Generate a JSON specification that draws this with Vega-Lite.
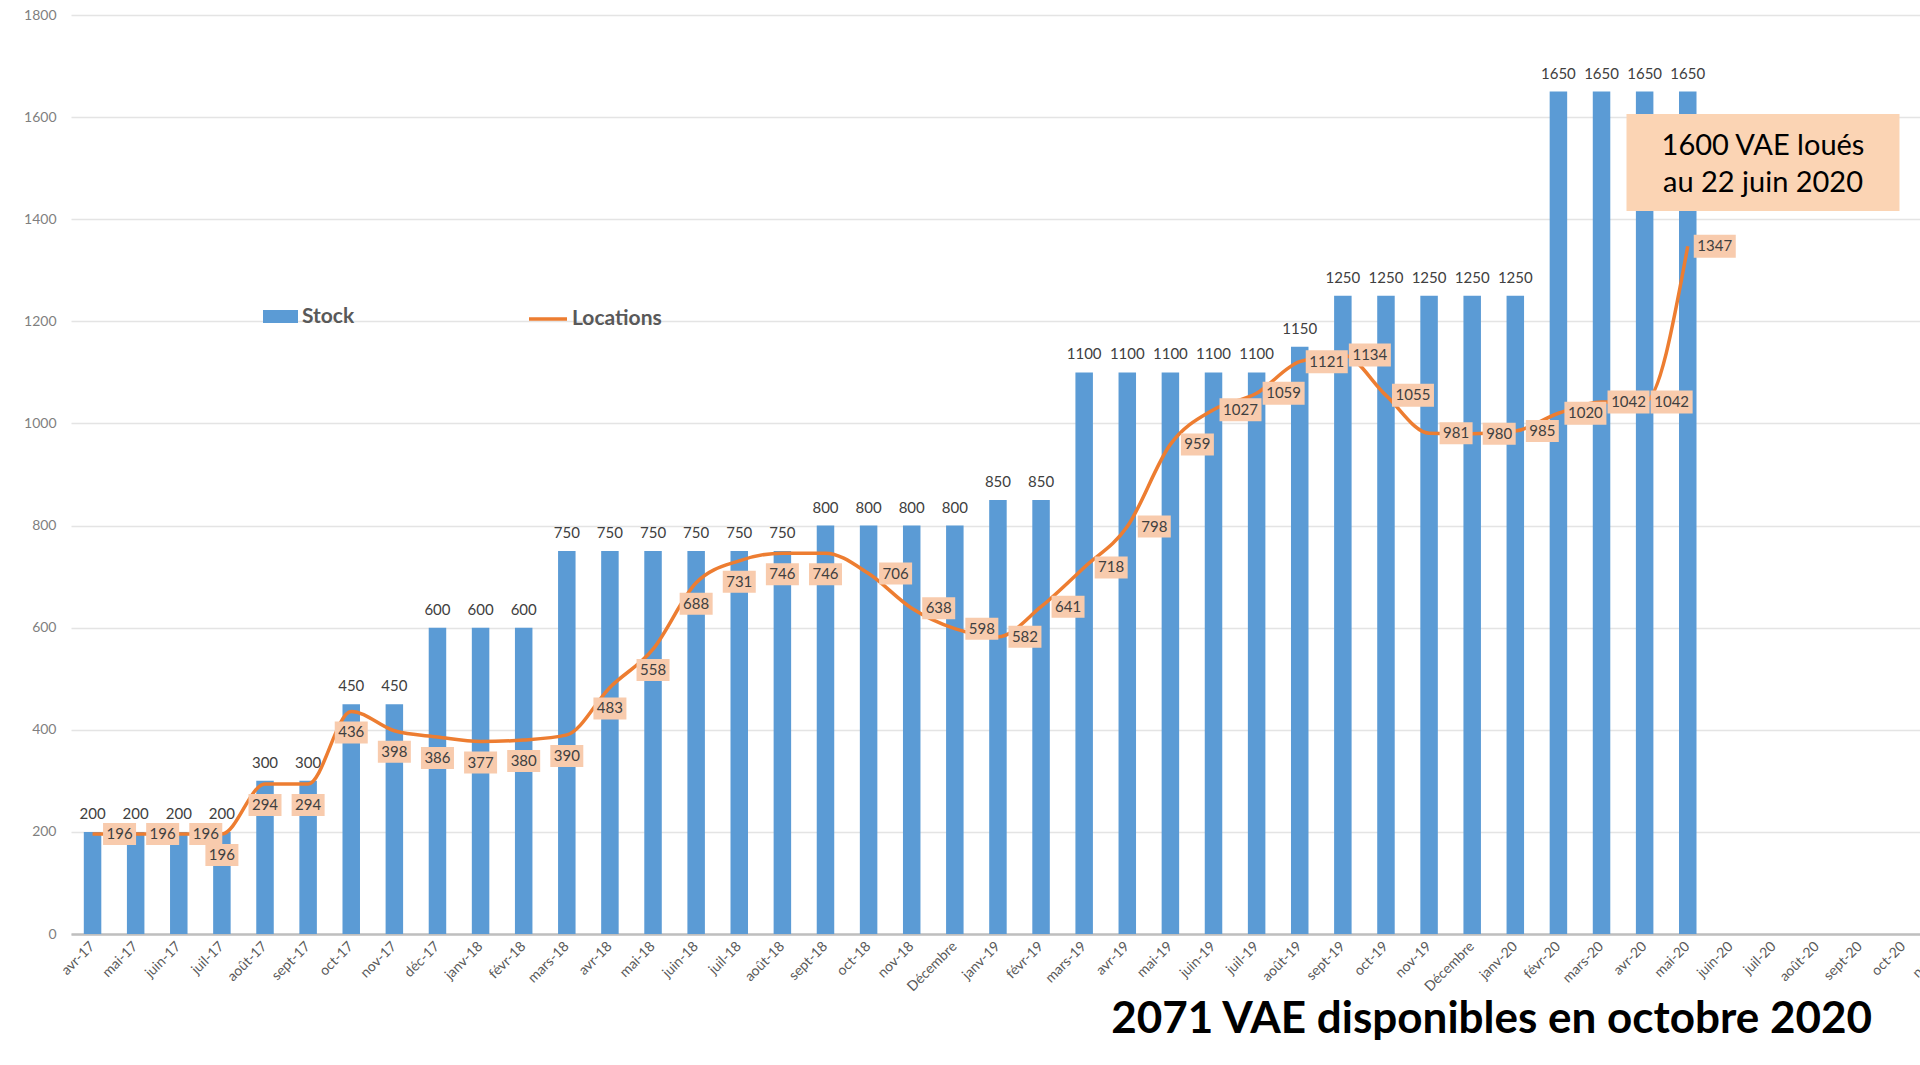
{
  "$schema": "https://vega.github.io/schema/vega-lite/v6.json",
  "width": 1849,
  "height": 919,
  "autosize": {"type": "none"},
  "padding": {"left": 71, "top": 15, "right": 0, "bottom": 131},
  "background": "white",
  "config": {
    "font": "Lato",
    "view": {"stroke": null},
    "axisY": {
      "tickCount": 10,
      "grid": true,
      "gridColor": "#E4E4E4",
      "gridWidth": 1.3,
      "domain": false,
      "ticks": false,
      "labelFontSize": 14,
      "labelColor": "#7F7F7F",
      "labelPadding": 15
    }
  },
  "title": {
    "text": "2071 VAE disponibles en octobre 2020",
    "orient": "bottom",
    "anchor": "end",
    "frame": "group",
    "fontSize": 44,
    "fontWeight": "bold",
    "color": "black",
    "offset": 4,
    "dx": -48
  },
  "data": {
    "values": [
      {"idx": 0, "m": "avr-17", "stock": 200, "loc": 196},
      {"idx": 1, "m": "mai-17", "stock": 200, "loc": 196},
      {"idx": 2, "m": "juin-17", "stock": 200, "loc": 196},
      {"idx": 3, "m": "juil-17", "stock": 200, "loc": 196},
      {"idx": 4, "m": "août-17", "stock": 300, "loc": 294},
      {"idx": 5, "m": "sept-17", "stock": 300, "loc": 294},
      {"idx": 6, "m": "oct-17", "stock": 450, "loc": 436},
      {"idx": 7, "m": "nov-17", "stock": 450, "loc": 398},
      {"idx": 8, "m": "déc-17", "stock": 600, "loc": 386},
      {"idx": 9, "m": "janv-18", "stock": 600, "loc": 377},
      {"idx": 10, "m": "févr-18", "stock": 600, "loc": 380},
      {"idx": 11, "m": "mars-18", "stock": 750, "loc": 390},
      {"idx": 12, "m": "avr-18", "stock": 750, "loc": 483},
      {"idx": 13, "m": "mai-18", "stock": 750, "loc": 558},
      {"idx": 14, "m": "juin-18", "stock": 750, "loc": 688},
      {"idx": 15, "m": "juil-18", "stock": 750, "loc": 731},
      {"idx": 16, "m": "août-18", "stock": 750, "loc": 746},
      {"idx": 17, "m": "sept-18", "stock": 800, "loc": 746},
      {"idx": 18, "m": "oct-18", "stock": 800, "loc": 706},
      {"idx": 19, "m": "nov-18", "stock": 800, "loc": 638},
      {"idx": 20, "m": "Décembre", "stock": 800, "loc": 598},
      {"idx": 21, "m": "janv-19", "stock": 850, "loc": 582},
      {"idx": 22, "m": "févr-19", "stock": 850, "loc": 641},
      {"idx": 23, "m": "mars-19", "stock": 1100, "loc": 718},
      {"idx": 24, "m": "avr-19", "stock": 1100, "loc": 798},
      {"idx": 25, "m": "mai-19", "stock": 1100, "loc": 959},
      {"idx": 26, "m": "juin-19", "stock": 1100, "loc": 1027},
      {"idx": 27, "m": "juil-19", "stock": 1100, "loc": 1059},
      {"idx": 28, "m": "août-19", "stock": 1150, "loc": 1121},
      {"idx": 29, "m": "sept-19", "stock": 1250, "loc": 1134},
      {"idx": 30, "m": "oct-19", "stock": 1250, "loc": 1055},
      {"idx": 31, "m": "nov-19", "stock": 1250, "loc": 981},
      {"idx": 32, "m": "Décembre ", "stock": 1250, "loc": 980},
      {"idx": 33, "m": "janv-20", "stock": 1250, "loc": 985},
      {"idx": 34, "m": "févr-20", "stock": 1650, "loc": 1020},
      {"idx": 35, "m": "mars-20", "stock": 1650, "loc": 1042},
      {"idx": 36, "m": "avr-20", "stock": 1650, "loc": 1042},
      {"idx": 37, "m": "mai-20", "stock": 1650, "loc": 1347},
      {"idx": 38, "m": "juin-20", "stock": null, "loc": null},
      {"idx": 39, "m": "juil-20", "stock": null, "loc": null},
      {"idx": 40, "m": "août-20", "stock": null, "loc": null},
      {"idx": 41, "m": "sept-20", "stock": null, "loc": null},
      {"idx": 42, "m": "oct-20", "stock": null, "loc": null},
      {"idx": 43, "m": "nov-20", "stock": null, "loc": null}
    ]
  },
  "encoding": {
    "x": {
      "field": "m",
      "type": "ordinal",
      "sort": null,
      "title": null,
      "scale": {
        "domain": ["avr-17", "mai-17", "juin-17", "juil-17", "août-17", "sept-17", "oct-17", "nov-17", "déc-17", "janv-18", "févr-18", "mars-18", "avr-18", "mai-18", "juin-18", "juil-18", "août-18", "sept-18", "oct-18", "nov-18", "Décembre", "janv-19", "févr-19", "mars-19", "avr-19", "mai-19", "juin-19", "juil-19", "août-19", "sept-19", "oct-19", "nov-19", "Décembre ", "janv-20", "févr-20", "mars-20", "avr-20", "mai-20", "juin-20", "juil-20", "août-20", "sept-20", "oct-20", "nov-20"],
        "paddingInner": 0,
        "paddingOuter": 0,
        "range": [0, 1897]
      },
      "axis": {
        "labelAngle": -45,
        "labelAlign": "right",
        "labelBaseline": "middle",
        "labelFontSize": 14,
        "labelColor": "#595959",
        "labelPadding": 10,
        "labelExpr": "trim(datum.label)",
        "labelOverlap": false,
        "labelBound": false,
        "ticks": false,
        "grid": false,
        "domainColor": "#BFBFBF",
        "domainWidth": 2.5
      }
    }
  },
  "layer": [
    {
      "mark": {"type": "bar", "size": 17.5},
      "encoding": {
        "y": {
          "field": "stock",
          "type": "quantitative",
          "title": null,
          "scale": {"domain": [0, 1800], "nice": false},
          "axis": {"format": "d"}
        },
        "fill": {
          "datum": "Stock",
          "scale": {"range": ["#5B9BD5"]},
          "legend": {
            "title": null,
            "orient": "none",
            "legendX": 192,
            "legendY": 284,
            "direction": "horizontal",
            "symbolType": "M-1,-0.37H1V0.37H-1Z",
            "symbolSize": 1225,
            "symbolStrokeWidth": 0,
            "labelFontSize": 21,
            "labelFontWeight": "bold",
            "labelColor": "#595959",
            "labelOffset": 4,
            "padding": 0
          }
        }
      }
    },
    {
      "transform": [{"filter": "datum.stock != null"}],
      "mark": {"type": "text", "dy": -18, "fontSize": 15, "color": "#404040", "baseline": "middle"},
      "encoding": {
        "y": {"field": "stock", "type": "quantitative", "title": null},
        "text": {"field": "stock", "type": "quantitative", "format": "d"}
      }
    },
    {
      "transform": [{"filter": "datum.loc != null"}],
      "mark": {"type": "line", "interpolate": "monotone", "strokeWidth": 3.5},
      "encoding": {
        "y": {"field": "loc", "type": "quantitative", "title": null},
        "stroke": {
          "datum": "Locations",
          "scale": {"range": ["#ED7D31"]},
          "legend": {
            "title": null,
            "orient": "none",
            "legendX": 456,
            "legendY": 283,
            "direction": "horizontal",
            "symbolType": "stroke",
            "symbolSize": 1444,
            "symbolStrokeWidth": 3.5,
            "labelFontSize": 21,
            "labelFontWeight": "bold",
            "labelColor": "#595959",
            "labelOffset": 3,
            "padding": 0
          }
        }
      }
    },
    {
      "transform": [{"filter": "datum.loc != null"}],
      "mark": {"type": "point", "filled": true, "fill": "#F8CBAD", "color": "#F8CBAD", "opacity": 1, "size": 1600, "strokeWidth": 0},
      "encoding": {
        "y": {"field": "loc", "type": "quantitative", "title": null},
        "shape": {
          "condition": [
            {"test": "datum.idx >= 3 && datum.idx <= 17", "value": "M-0.825,0.5H0.825V1.6H-0.825Z"},
            {"test": "datum.loc >= 1000", "value": "M0.3,-0.575H2.4V0.575H0.3Z"}
          ],
          "value": "M0.525,-0.55H2.175V0.55H0.525Z"
        }
      }
    },
    {
      "transform": [{"filter": "datum.loc != null && (datum.idx < 3 || datum.idx > 17)"}],
      "mark": {"type": "text", "dx": 27, "fontSize": 15, "color": "#404040", "baseline": "middle"},
      "encoding": {
        "y": {"field": "loc", "type": "quantitative", "title": null},
        "text": {"field": "loc", "type": "quantitative", "format": "d"}
      }
    },
    {
      "transform": [{"filter": "datum.loc != null && datum.idx >= 3 && datum.idx <= 17"}],
      "mark": {"type": "text", "dy": 21, "fontSize": 15, "color": "#404040", "baseline": "middle"},
      "encoding": {
        "y": {"field": "loc", "type": "quantitative", "title": null},
        "text": {"field": "loc", "type": "quantitative", "format": "d"}
      }
    },
    {
      "data": {"values": [{}]},
      "mark": {"type": "point", "shape": "M-1,-0.355H1V0.355H-1Z", "size": 74529, "filled": true, "fill": "#FBD4B4", "color": "#FBD4B4", "opacity": 1, "strokeWidth": 0, "xOffset": -11},
      "encoding": {
        "x": {"datum": "juil-20"},
        "y": {"datum": 1511, "type": "quantitative", "title": null}
      }
    },
    {
      "data": {"values": [{}]},
      "mark": {"type": "text", "text": ["1600 VAE loués", "au 22 juin 2020"], "fontSize": 29, "lineHeight": 37, "color": "black", "baseline": "middle", "dx": -11, "dy": -17},
      "encoding": {
        "x": {"datum": "juil-20"},
        "y": {"datum": 1511, "type": "quantitative", "title": null}
      }
    }
  ]
}
